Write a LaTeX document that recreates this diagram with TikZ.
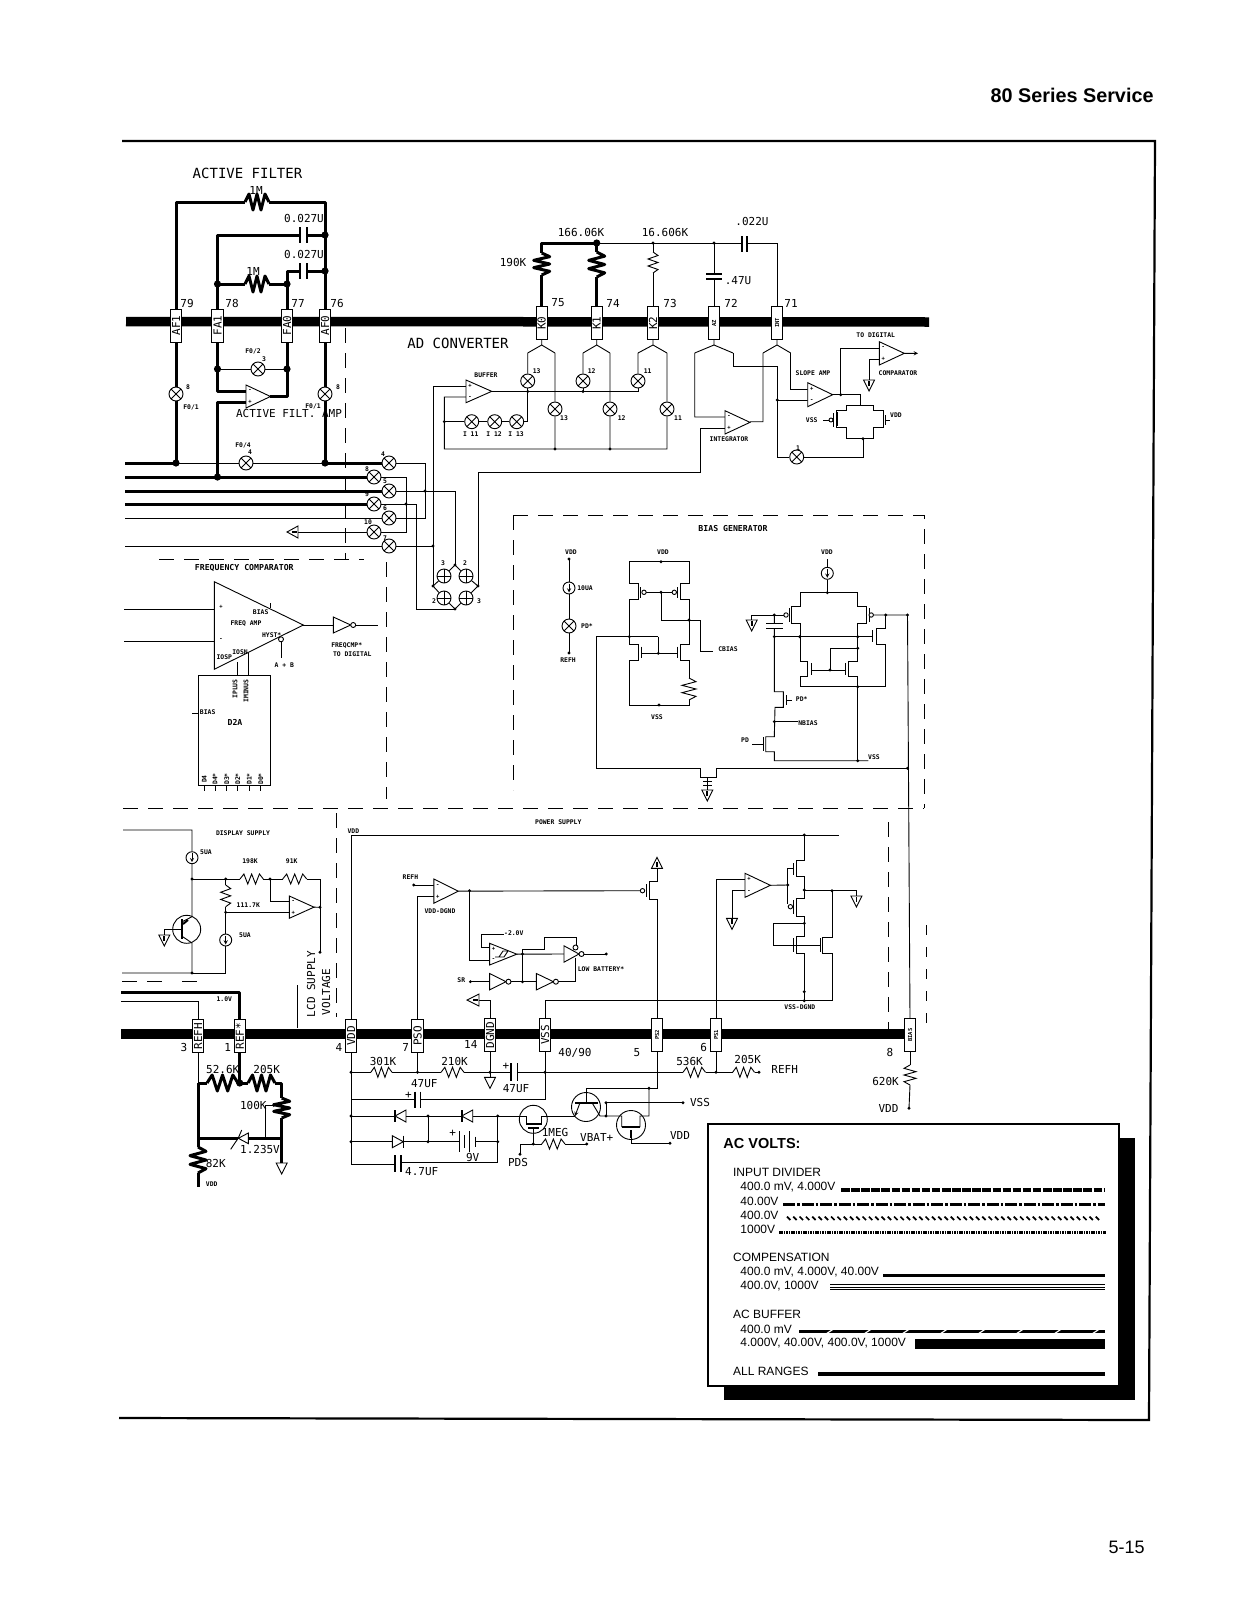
\documentclass[tikz,border=0pt]{standalone}
\usepackage{fontspec}
\usepackage{graphicx}
\setmainfont{Liberation Sans}
\newfontfamily\pl{DejaVu Sans Mono}
\newcounter{tn}
\newcommand\T[4][mid]{\stepcounter{tn}\node[#1] (t\arabic{tn}) at (#2,#3) {#4};}
\newcommand\Rh[5][]{\draw[#1] (#2,#4) -- ({#2+(#3-#2)/6},{#4-#5}) -- ({#2+2*(#3-#2)/6},{#4+#5}) -- ({#2+3*(#3-#2)/6},{#4-#5}) -- ({#2+4*(#3-#2)/6},{#4+#5}) -- ({#2+5*(#3-#2)/6},{#4-#5}) -- (#3,#4);}
\newcommand\Rv[5][]{\draw[#1] (#4,#2) -- ({#4+#5},{#2+(#3-#2)/6}) -- ({#4-#5},{#2+2*(#3-#2)/6}) -- ({#4+#5},{#2+3*(#3-#2)/6}) -- ({#4-#5},{#2+4*(#3-#2)/6}) -- ({#4+#5},{#2+5*(#3-#2)/6}) -- (#4,#3);}
\newcommand\dt[2]{\fill (#1,#2) circle (1.6);}
\newcommand\Dt[2]{\fill (#1,#2) circle (3.6);}
\newcommand\Op[7]{\draw[fill=white] (#2,#3) -- (#5,{(#3+#4)/2}) -- (#2,#4) -- cycle; \coordinate (#1) at (#5,{(#3+#4)/2}); \T[sign]{{#2+4}}{{#3+(#4-#3)*.25}}{#6} \T[sign]{{#2+4}}{{#3+(#4-#3)*.75}}{#7}}
\newcommand\Inv[4]{\draw[fill=white] (#1,{#2-#4}) -- ({#1+#3},#2) -- (#1,{#2+#4}) -- cycle; \draw[fill=white] ({#1+#3+2.5},#2) circle (2.5);}
\newcommand\Gd[2]{\draw[fill=white] ({#1-5.5},#2) -- ({#1+5.5},#2) -- (#1,{#2+11}) -- cycle;}
\newcommand\Gdi[2]{\Gd{#1}{#2}\draw[line width=1.8pt] (#1,{#2+1}) -- (#1,{#2+6});}
\newcommand\Gu[2]{\draw[fill=white] ({#1-5.5},#2) -- ({#1+5.5},#2) -- (#1,{#2-11}) -- cycle; \draw[line width=1.8pt] (#1,{#2-1}) -- (#1,{#2-6});}
\tikzset{
  tk/.style={line width=3pt,line join=round},
  pl2/.style={line width=1.6pt},
  dsh/.style={line width=1pt,dash pattern=on 15pt off 10pt},
  big/.style={inner sep=0pt,font=\pl\fontsize{14}{14}\selectfont},
  mid/.style={inner sep=0pt,font=\pl\fontsize{11}{11}\selectfont},
  tiny/.style={inner sep=0pt,font=\pl\bfseries\fontsize{6.4}{7}\selectfont},
  tinyb/.style={inner sep=0pt,font=\pl\bfseries\fontsize{8.2}{9}\selectfont},
  sign/.style={inner sep=0pt,font=\pl\bfseries\fontsize{5.5}{6}\selectfont},
  leg/.style={inner sep=0pt,anchor=west,font=\fontsize{12}{12}\selectfont},
  padb/.style={draw,fill=white,line width=.9pt,minimum width=11.5pt,minimum height=33pt,inner sep=0pt,font=\pl\fontsize{11}{11}\selectfont},
  pads/.style={padb,font=\pl\bfseries\fontsize{5.5}{6}\selectfont},
  lamp/.style={circle,draw,fill=white,line width=.9pt,minimum size=14pt,inner sep=0pt,
    path picture={\draw[line width=.9pt] (path picture bounding box.north west)--(path picture bounding box.south east) (path picture bounding box.north east)--(path picture bounding box.south west);}},
  plamp/.style={circle,draw,fill=white,line width=.9pt,minimum size=14pt,inner sep=0pt,
    path picture={\draw[line width=.9pt] (path picture bounding box.north)--(path picture bounding box.south) (path picture bounding box.east)--(path picture bounding box.west);}},
  isrc/.style={circle,draw,fill=white,line width=.9pt,minimum size=12pt,inner sep=0pt,
    path picture={\draw[line width=.9pt,->,>=stealth] ([yshift=4.5pt]path picture bounding box.center)--([yshift=-4.5pt]path picture bounding box.center);}},
}
\begin{document}
\begin{tikzpicture}[x=1pt,y=-1pt,line width=.9pt]
\useasboundingbox (0,0) rectangle (1237,1600);
% page furniture
\node[inner sep=0pt,anchor=base east,font=\bfseries\fontsize{19.8}{20}\selectfont] (title) at (1154,103) {80 Series Service};
\node[inner sep=0pt,anchor=base east,font=\fontsize{18}{18}\selectfont] (pageno) at (1145,1553) {5-15};
\draw[line width=2.2pt,line join=miter] (122,141) -- (1155,141) -- (1149,1420) -- (119,1418);
% buses
\draw[line width=9.5pt] (126,321.5) -- (929,322);
\draw[line width=10pt] (121,1034) -- (910,1034);
% pads
\node[padb] (pAFa) at (176,325.5) {\rotatebox{90}{AF1}};
\node[padb] (pFAa) at (217.5,325.5) {\rotatebox{90}{FA1}};
\node[padb] (pFAo) at (287,325.5) {\rotatebox{90}{FA0}};
\node[padb] (pAFo) at (325,325.5) {\rotatebox{90}{AF0}};
\node[padb] (pKo) at (541.7,323) {\rotatebox{90}{K0}};
\node[padb] (pKa) at (596.7,323) {\rotatebox{90}{K1}};
\node[padb] (pKb) at (653,323) {\rotatebox{90}{K2}};
\node[pads] (pAZ) at (714,323) {\rotatebox{90}{AZ}};
\node[pads] (pINT) at (777,323) {\rotatebox{90}{INT}};
\node[padb] (pREFH) at (198,1036) {\rotatebox{90}{REFH}};
\node[padb] (pREF) at (239.7,1036) {\rotatebox{90}{REF*}};
\node[padb] (pVDD) at (351,1036) {\rotatebox{90}{VDD}};
\node[padb] (pPSO) at (417.5,1036) {\rotatebox{90}{PSO}};
\node[padb] (pDGND) at (490,1035) {\rotatebox{90}{DGND}};
\node[padb] (pVSS) at (545,1035) {\rotatebox{90}{VSS}};
\node[pads] (pPSb) at (657,1035) {\rotatebox{90}{PS2}};
\node[pads] (pPSa) at (716,1035) {\rotatebox{90}{PS1}};
\node[pads] (pBIAS) at (910,1035) {\rotatebox{90}{BIAS}};
% lamps
\node[lamp] (lAFa) at (176,394) {};
\node[lamp] (lAFo) at (325,394) {};
\node[lamp] (lFb) at (258,369) {};
\node[lamp] (lFd) at (246,463) {};
\node[lamp] (lfour) at (389,463) {};
\node[lamp] (leight) at (374,477) {};
\node[lamp] (lfive) at (389,491) {};
\node[lamp] (lnine) at (374,504) {};
\node[lamp] (lsix) at (389,518) {};
\node[lamp] (lten) at (374,532) {};
\node[lamp] (lseven) at (389,546) {};
\node[plamp] (dTL) at (444,576) {};
\node[plamp] (dTR) at (466,576) {};
\node[plamp] (dBL) at (444,598) {};
\node[plamp] (dBR) at (466,598) {};
\node[lamp] (lKoL) at (527.7,381) {};
\node[lamp] (lKaL) at (583,381) {};
\node[lamp] (lKbL) at (638,381) {};
\node[lamp] (lKoR) at (555,409) {};
\node[lamp] (lKaR) at (610,409) {};
\node[lamp] (lKbR) at (667,409) {};
\node[lamp] (lIa) at (471.7,421.7) {};
\node[lamp] (lIb) at (494.7,421.7) {};
\node[lamp] (lIc) at (516.7,421.7) {};
\node[lamp] (lone) at (796.7,457) {};
\node[lamp] (lPD) at (569,626) {};
\node[isrc] (iTen) at (569,588) {};
\node[isrc] (iBias) at (827.3,573.3) {};
\node[isrc] (iDa) at (192,857.7) {};
\node[isrc] (iDb) at (225.7,940) {};
% ------- active filter
\draw[tk] (pAFa.north) |- (245,202); \Rh[tk]{245}{269}{202}{8}; \draw[tk] (269,202) -| (pAFo.north);
\draw[tk] (pFAa.north) |- (300,235); \draw[tk] (307,235) -- (325,235);
\draw[pl2] (300,227) -- (300,243) (307,227) -- (307,243);
\draw[tk] (pFAo.north) -- (287,271) -- (300,271); \draw[tk] (307,271) -- (325,271);
\draw[pl2] (300,263) -- (300,279) (307,263) -- (307,279);
\draw[tk] (217.5,284) -- (245,284); \Rh[tk]{245}{269}{284}{8}; \draw[tk] (269,284) -- (287,284);
\Dt{325}{235} \Dt{325}{271} \Dt{217.5}{284} \Dt{287}{284}
\draw[tk] (pAFa.south) -- (lAFa); \draw[tk] (lAFa) -- (176,463);
\draw[tk] (pAFo.south) -- (lAFo); \draw[tk] (lAFo) -- (325,463);
\draw[tk] (pFAa.south) |- (246,391);
\draw[tk] (pFAo.south) |- (270,396);
\draw[tk] (246,402) -| (217.5,477);
\draw (217.5,369) -- (lFb) -- (287,369);
\Dt{217.5}{369} \Dt{287}{369}
\Op{opAF}{246}{385}{408}{270.5}{-}{+}
% lines from left
\draw[tk] (125,463) -- (176,463); \draw (176,463) -- (lFd) -- (325,463); \draw[tk] (325,463) -- (lfour);
\draw[tk] (125,477) -- (leight);
\draw[tk] (125,491) -- (lfive);
\draw[tk] (125,504) -- (lnine);
\draw (125,518) -- (lsix);
\draw (125,546) -- (lseven);
\Dt{176}{463} \Dt{325}{463} \Dt{217.5}{477}
\draw (lfour) -| (425,518) -- (lsix);
\draw (leight) -| (406,532) -- (lten);
\draw (lfive) -| (455,565);
\draw (lnine) -| (416,609) -- (455,609);
\draw (lseven) -- (433,546);
\draw (lten) -- (298,532);
\draw[fill=white] (298,526) -- (287,532) -- (298,538) -- cycle; \draw[line width=1.8pt] (297,532) -- (292,532);
\dt{425}{491} \dt{406}{504} \dt{433}{546}
\draw (467,386) -| (433,586);
\draw (455,565) -- (dTL) -- (433,586) -- (dBL) -- (455,609) -- (dBR) -- (478,586) -- (dTR) -- (455,565);
\dt{455}{565} \dt{433}{586} \dt{478}{586} \dt{455}{609}
\draw (478,586) |- (700,472) |- (725,428);
% dashed
\draw[dsh] (345,328) -- (345,559);
\draw[dsh] (159,559) -- (364,559);
\draw[dsh] (386,562) -- (386,799);
\draw[dsh] (123,808) -- (924,808);
\draw[dsh] (513,515) -- (924,515) -- (924,808);
\draw[dsh] (513,515) -- (513,790);
\draw[dsh] (336.7,813) -- (336.7,1017);
\draw (297.7,985) -- (297.7,1028);
\draw[dsh] (888,822) -- (888,1032);
\draw[line width=.5pt,dash pattern=on 10pt off 12pt] (926,925) -- (926,1030);
\draw[dsh] (122,981.7) -- (170,981.7) (182,981.7) -- (198,981.7);
% labels upper left
\T[big]{247.5}{173}{ACTIVE FILTER}
\T[mid]{256}{190}{1M} \T[mid]{253}{271}{1M}
\T[mid]{304}{218}{0.027U} \T[mid]{304}{254}{0.027U}
\T[mid]{187}{303}{79} \T[mid]{232}{303}{78} \T[mid]{298}{303}{77} \T[mid]{337}{303}{76}
\T[tiny]{253}{351}{F0/2} \T[tiny]{264}{359}{3} \T[tiny]{191}{407}{F0/1} \T[tiny]{188}{387}{8}
\T[tiny]{338}{387}{8} \T[tiny]{313}{406}{F0/1} \T[tiny]{243}{445}{F0/4} \T[tiny]{250}{452}{4}
\T[mid]{289}{413}{ACTIVE FILT. AMP}
\T[tiny]{383}{454}{4} \T[tiny]{367}{469}{8} \T[tiny]{385}{481}{5} \T[tiny]{367}{494}{9} \T[tiny]{385}{508}{6} \T[tiny]{368}{522}{10} \T[tiny]{385}{538}{7}
\T[tiny]{443}{563}{3} \T[tiny]{465}{563}{2} \T[tiny]{434}{601}{2} \T[tiny]{479}{601}{3}
% ------- AD converter
\draw[tk] (pKo.north) -- (541.7,275); \Rv[tk]{275}{253}{541.7}{8}; \draw[tk] (541.7,253) |- (596.7,243);
\draw[tk] (pKa.north) -- (596.7,277); \Rv[tk]{277}{252}{596.7}{8}; \draw[tk] (596.7,252) -- (596.7,243);
\Dt{596.7}{243}
\draw (596.7,243) -- (741.7,243); \draw (747,243) -| (pINT.north);
\draw[pl2] (741.7,236) -- (741.7,252) (747,236) -- (747,252);
\draw (pKb.north) -- (653,273); \Rv{273}{252}{653}{5}; \draw (653,252) -- (653,243);
\draw (714,243) -- (714,274); \draw (714,279) -- (pAZ.north);
\draw[pl2] (706,274) -- (722,274) (706,279) -- (722,279);
\dt{653}{243} \dt{714}{243}
% forks
\draw (pKo.south) -- (541.7,345) (527.7,353) -- (541.7,345) -- (555,353) (527.7,353) -- (lKoL) (555,353) -- (lKoR) -- (555,449);
\draw (pKa.south) -- (596.7,345) (583,353) -- (596.7,345) -- (610,353) (583,353) -- (lKaL) (610,353) -- (lKaR) -- (610,449);
\draw (pKb.south) -- (653,345) (638,353) -- (653,345) -- (667,353) (638,353) -- (lKbL) (667,353) -- (lKbR) -- (667,449) -- (444.3,449) -- (444.3,397) -- (466,397);
\draw (lKoL) -- (527.7,421.7) -- (lIc) -- (lIb) -- (lIa) -- (444.3,421.7);
\draw (lKaL) -- (583,391.7) (lKbL) -- (638,391.7);
\draw (491.7,391.5) -- (638,391.5);
\dt{527.7}{391.5} \dt{583}{391.5} \dt{444.3}{421.7} \dt{555}{449} \dt{610}{449}
\Op{opBuf}{466}{380}{402.7}{491.7}{+}{-}
\T[tiny]{486}{375.7}{BUFFER}
\T[tiny]{470.7}{434}{I 11} \T[tiny]{494}{434}{I 12} \T[tiny]{516}{434}{I 13}
\T[tiny]{536.7}{371}{13} \T[tiny]{591.7}{371}{12} \T[tiny]{647.7}{371}{11}
\T[tiny]{564}{417.7}{13} \T[tiny]{621.7}{417.7}{12} \T[tiny]{678}{417.7}{11}
\draw (pAZ.south) -- (714,345) (694.7,353) -- (714,345) -- (733,353) (694.7,353) |- (725,417);
\draw (733,353) |- (777.3,366.7) -- (777.3,457) -- (lone) -| (863,438.7);
\draw (pINT.south) -- (777,345) (763,353) -- (777,345) -- (790.7,353) (763,353) |- (750,421.7);
\draw (790.7,353) |- (807.7,389);
\draw (777.3,400) -- (807.7,400); \dt{777.3}{400}
\T[tiny]{798}{448}{1}
\Op{opInt}{725}{410.7}{434}{750}{-}{+}
\T[tiny]{729}{439}{INTEGRATOR}
\Op{opSl}{807.7}{382.7}{406.7}{832.7}{+}{-}
\T[tiny]{813}{373}{SLOPE AMP}
\draw (832.7,394.7) -| (860,405.7);
\draw (840.7,394.7) |- (879.3,348.3); \dt{840.7}{394.7}
\Op{opCmp}{879.3}{341.7}{365}{904.3}{-}{+}
\draw[->,>=stealth] (opCmp) -- (918,353.3);
\draw (879.3,359) -| (869,380); \Gdi{869}{380}
\T[tiny]{875.7}{335}{TO DIGITAL} \T[tiny]{898}{373}{COMPARATOR}
\draw (846.7,405.7) -- (873.3,405.7) -- (873.3,410.7) -- (883.3,410.7) -- (883.3,427.3) -- (873.3,427.3) -- (873.3,438.7) -- (846.7,438.7) -- (846.7,427.3) -- (836.7,427.3) -- (836.7,410.7) -- (846.7,410.7) -- cycle;
\draw[pl2] (836.7,412) -- (836.7,426) (883.3,412) -- (883.3,426);
\draw (833.5,413) -- (833.5,427); \draw (885.7,415) -- (885.7,425); \draw (885.7,420) -- (890,420);
\draw (823,420) -- (829,420); \draw[fill=white] (831,420) circle (2);
\T[tiny]{811.7}{420}{VSS} \T[tiny]{896}{415}{VDD}
\dt{863}{438.7}
\T[big]{458}{343}{AD CONVERTER}
\T[mid]{581}{232}{166.06K} \T[mid]{665}{232}{16.606K} \T[mid]{752}{221}{.022U} \T[mid]{513}{262}{190K} \T[mid]{738}{281}{.47U}
\T[mid]{558}{303}{75} \T[mid]{613}{303}{74} \T[mid]{670}{303}{73} \T[mid]{731}{303}{72} \T[mid]{791}{303}{71}
% ------- frequency comparator
\T[tinyb]{244.3}{567.7}{FREQUENCY COMPARATOR}
\draw (124,609) -- (214.3,609) (124,641.7) -- (214.3,641.7);
\draw[fill=white] (214.3,581.7) -- (303.3,625) -- (214.3,669.3) -- cycle;
\coordinate (fAmp) at (303.3,625);
\T[sign]{221}{606.7}{+} \T[sign]{221}{640}{-}
\T[tiny]{260.7}{612.3}{BIAS} \T[tiny]{246}{624}{FREQ AMP} \T[tiny]{271.7}{635}{HYST*}
\T[tiny]{224.3}{657.3}{IOSP} \T[tiny]{240}{651.7}{IOSN}
\draw (270.7,603) -- (270.7,608);
\draw (281,642) -- (281,658.3); \draw[fill=white] (281,639.3) circle (2.5);
\T[tiny]{284.3}{665}{A + B}
\draw (fAmp) -- (333.3,625); \Inv{333.3}{625}{17.4}{8} \draw (356.2,625) -- (378.3,625);
\T[tiny]{346.7}{645.7}{FREQCMP*} \T[tiny]{352.3}{654.3}{TO DIGITAL}
\node[draw,minimum width=72.3pt,minimum height=110pt,inner sep=0pt] (dta) at (234.15,730) {};
\draw (237.3,662) -- (237.3,675) (248.3,653) -- (248.3,675);
\T[tiny]{235}{689}{\rotatebox{90}{IPLUS}} \T[tiny]{246}{691}{\rotatebox{90}{IMINUS}}
\draw (192.3,713.3) -- (198,713.3);
\T[tiny]{207.7}{711.7}{BIAS}
\T[tinyb]{235}{722.3}{D2A}
\T[tiny]{204.3}{779}{\rotatebox{90}{D4}} \T[tiny]{215}{779}{\rotatebox{90}{D4*}} \T[tiny]{226.7}{779}{\rotatebox{90}{D3*}} \T[tiny]{237.7}{779}{\rotatebox{90}{D2*}} \T[tiny]{249.3}{779}{\rotatebox{90}{D1*}} \T[tiny]{260.7}{779}{\rotatebox{90}{D0*}}
\draw (204.3,785) -- (204.3,791) (215,785) -- (215,791) (226.7,785) -- (226.7,791) (237.7,785) -- (237.7,791) (249.3,785) -- (249.3,791) (260.7,785) -- (260.7,791);
% ------- bias generator
\T[tinyb]{733}{529}{BIAS GENERATOR}
\T[tiny]{571}{552}{VDD} \T[tiny]{585}{588}{10UA} \T[tiny]{587}{626}{PD*} \T[tiny]{568}{660}{REFH}
\dt{569}{559} \dt{569}{653}
\draw (569,559) -- (iTen) -- (lPD) -- (569,653);
\T[tiny]{663}{552}{VDD} \dt{661}{561.7}
\draw (629.3,636.7) -- (629.3,599.3) -- (638,599.3) -- (638,583) -- (629.3,583) -- (629.3,561.7) -- (689,561.7) -- (689,583) -- (680,583) -- (680,599.3) -- (689,599.3) -- (689,644) -- (680,644) -- (680,660.7) -- (689,660.7) -- (689,678);
\Rv{678}{700}{689}{7}
\draw (689,700) -- (689,705) -- (629.3,705) -- (629.3,660.7) -- (638,660.7) -- (638,644) -- (629.3,644) -- (629.3,636.7);
\draw (640.7,587) -- (640.7,598) (677.3,587) -- (677.3,598) (646,592.3) -- (672,592.3);
\draw[fill=white] (644,592.3) circle (2.2) (674.3,592.3) circle (2.2);
\draw (661,592.3) -- (661,620) -- (700,620) -- (700,651) -- (713.3,651);
\dt{661}{592.3} \dt{689}{620}
\draw (641.7,646.7) -- (641.7,658) (641.7,653.3) -- (677.3,653.3) (677.3,646.7) -- (677.3,658) (658.3,653.3) -- (658.3,636.7);
\dt{658.3}{653.3} \dt{629.3}{636.7} \dt{659}{705}
\T[tiny]{728}{649}{CBIAS} \T[tiny]{657}{717}{VSS}
\draw (658.3,636.7) -- (596,636.7) -- (596,768.3) -- (700,768.3) -- (700,777.3) -- (716,777.3) -- (716,768.3) -- (907.5,768.3);
\draw (707.3,777.3) -- (707.3,790) (703,781) -- (712,781) (703,785) -- (712,785); \Gdi{707.3}{790}
\dt{907.5}{768.3}
% right part of bias generator
\T[tiny]{827}{552}{VDD}
\draw (827.3,559) -- (iBias) -- (827.3,592.7); \dt{827.3}{592.7}
\draw (800,686.7) -- (800,676.7) -- (807.7,676.7) -- (807.7,661.7) -- (800,661.7) -- (800,623.3) -- (791.7,623.3) -- (791.7,606.7) -- (800,606.7) -- (800,592.7) -- (857.7,592.7) -- (857.7,606.7) -- (866.7,606.7) -- (866.7,623.3) -- (857.7,623.3) -- (857.7,661.7) -- (848.3,661.7) -- (848.3,676.7) -- (857.7,676.7) -- (857.7,760.7);
\draw (789.3,608) -- (789.3,622) (869,608) -- (869,622);
\draw (784,615) -- (751.7,615) -- (751.7,620); \Gdi{751.7}{620}
\draw[fill=white] (786,615) circle (2.2) (871.2,615) circle (2.2);
\draw (873.4,615) -- (907.5,615) -- (pBIAS.north);
\dt{885.7}{615} \dt{774.3}{615} \dt{907.5}{615}
\draw (774.3,615) -- (774.3,623.3) (774.3,628.3) -- (774.3,691.7) -- (783.3,691.7) -- (783.3,707.3) -- (775,707.3) -- (774.3,736.7) -- (765.7,736.7) -- (765.7,751.7) -- (774.3,751.7) -- (774.3,760.7) -- (868.3,760.7);
\draw[pl2] (766,623.3) -- (782.6,623.3) (766,628.3) -- (782.6,628.3);
\draw (774.3,636.7) -- (872.7,636.7);
\draw (872.7,630) -- (872.7,642);
\dt{774.3}{636.7} \dt{799.7}{636.7} \dt{857.7}{636.7}
\draw (885.7,615) -- (885.7,628) -- (876.7,628) -- (876.7,644.3) -- (885.7,644.3) -- (885.7,686.7) -- (800,686.7);
\dt{857.7}{686.7} \dt{857.7}{760.7} \dt{774.3}{721.7}
\draw (811,663) -- (811,675) (811,670) -- (845,670) (845,663) -- (845,675);
\draw (830,670) -- (830,648.3) -- (857.7,648.3); \dt{830}{670} \dt{857.7}{648.3}
\draw (786,695) -- (786,705) (786,700) -- (791.7,700);
\draw (774.3,721.7) -- (798.3,721.7);
\draw (763.3,737) -- (763.3,751) (752.3,744.3) -- (763.3,744.3);
\T[tiny]{801.7}{699}{PD*} \T[tiny]{808}{723}{NBIAS} \T[tiny]{745}{740}{PD} \T[tiny]{874}{757}{VSS}
% ------- display supply
\T[tiny]{243}{833}{DISPLAY SUPPLY}
\draw (123,830) -- (192,830) -- (iDa) -- (192,916.7) -- (181.7,922);
\draw (181.7,936) -- (192,943) -- (192,973) -- (122,973);
\draw (192,973) -- (225.7,973) -- (iDb) -- (225.7,912.3);
\draw (186.7,929.3) circle (14);
\draw[pl2] (181.7,919) -- (181.7,939);
\draw[line width=2pt] (183,924) -- (188,920);
\draw (181.7,929.3) -- (164.3,929.3) -- (164.3,935); \Gdi{164.3}{935}
\draw (192,879) -- (240,879); \Rh{240}{263.3}{879}{5}; \draw (263.3,879) -- (282.7,879); \Rh{282.7}{306.7}{879}{5}; \draw (306.7,879) -| (320,952.3);
\draw (225.7,879) -- (225.7,885); \Rv{885}{906.7}{225.7}{5}; \draw (225.7,906.7) -- (225.7,912.3);
\draw (225.7,912.3) -- (289.3,912.3);
\draw (270,879) |- (289.3,901.7);
\Op{opD}{289.3}{896}{918.3}{314}{-}{+}
\draw (opD) -- (320,907.3);
\dt{192}{879} \dt{225.7}{879} \dt{270}{879} \dt{225.7}{912.3} \dt{320}{907.3} \dt{320}{952.3} \dt{192}{973}
\T[tiny]{206}{852.7}{5UA} \T[tiny]{250}{861}{198K} \T[tiny]{291.7}{861}{91K} \T[tiny]{248.3}{905}{111.7K} \T[tiny]{245}{935}{5UA} \T[tiny]{224.3}{999.3}{1.0V}
\T[mid]{311}{984}{\rotatebox{90}{LCD SUPPLY}} \T[mid]{326}{992}{\rotatebox{90}{VOLTAGE}}
\draw[tk] (121,992.7) -| (pREF.north);
\draw (121,1001) -| (pREFH.north);
\T[mid]{184}{1047}{3} \T[mid]{227.7}{1047}{1} \T[mid]{339}{1047}{4} \T[mid]{405.7}{1047}{7}
% reference network
\draw (pREFH.south) -- (198,1083);
\draw[tk] (pREF.south) -- (239.7,1083);
\draw[tk] (198,1083) -- (207,1083); \Rh[tk]{207}{238}{1083}{8}; \draw[tk] (238,1083) -- (248,1083); \Rh[tk]{248}{275}{1083}{8}; \draw[tk] (275,1083) -| (281.7,1098);
\Rv[tk]{1098}{1118}{281.7}{8}
\draw[tk] (281.7,1118) -- (281.7,1163);
\Dt{239.7}{1083}
\draw[tk] (198,1083) -- (198,1147);
\draw[tk] (198,1138.3) -- (238,1138.3); \draw[tk] (248,1138.3) -- (281.7,1138.3);
\draw[fill=white] (238.3,1138.3) -- (248.3,1133) -- (248.3,1143.6) -- cycle;
\draw (230.7,1149.3) -- (238.3,1138) -- (241.7,1130);
\draw[->,>=stealth] (265,1138) -- (265,1105) -- (277,1105);
\Rv[tk]{1147}{1173}{198}{8}
\draw[tk] (198,1173) -- (198,1186.7);
\Gd{281.7}{1163}
\T[mid]{222.7}{1069.3}{52.6K} \T[mid]{266.7}{1069.3}{205K} \T[mid]{253.3}{1105}{100K} \T[mid]{260}{1149}{1.235V} \T[mid]{215.7}{1163}{82K} \T[tiny]{211.7}{1184}{VDD}
% ------- power supply
\T[tiny]{558.3}{822.3}{POWER SUPPLY} \T[tiny]{353.4}{830.7}{VDD}
\draw (pVDD.north) |- (839.4,835);
\dt{804.3}{835}
\T[tiny]{410.4}{877.3}{REFH} \dt{413.8}{885}
\draw (413.8,885) -- (433.8,885);
\draw (pPSO.north) |- (433.8,896);
\Op{opVa}{433.8}{879}{903.3}{458.3}{-}{+}
\T[tiny]{440}{911}{VDD-DGND}
\draw (opVa) -- (640.2,890.7); \dt{469.6}{890.7}
\draw[fill=white] (642.5,890.7) circle (2.2);
\draw (646,884) -- (646,897);
\draw (pPSb.north) -- (657,899.3) -- (649,899.3) -- (649,881.7) -- (657,881.7) -- (657,868.3); \Gu{657}{868.3}
\draw (469.6,890.7) |- (489.6,960);
\draw (489.6,947.3) -| (481,934.3) -- (503.6,934.3);
\Op{opB}{489.6}{943.3}{965}{516.8}{+}{-}
\draw (495,957) -- (499,957) -- (503,951) -- (508,951) (508,951) -- (504,957) -- (499,957);
\T[tiny]{513.8}{933.3}{-2.0V}
\draw (opB) -- (564,954);
\draw (522.5,949) -- (522.5,981.7);
\draw (522.5,949) -- (544.5,949) -- (544.5,937.7) -- (576,937.7) -- (576,946);
\draw (575.3,981.7) -- (575.3,958);
\Inv{564}{954}{15}{8.2}
\draw[fill=white] (575.5,947.5) circle (2.5);
\draw (584,954) -- (606.2,954); \dt{606.2}{954}
\dt{522.5}{954} \dt{522.5}{981.7}
\T[tiny]{461.3}{980}{SR} \dt{470.4}{981.7}
\draw (470.4,981.7) -- (489.6,981.7); \Inv{489.6}{981.7}{16.4}{8.2}
\draw (511,981.7) -- (536.4,981.7); \Inv{536.4}{981.7}{17}{8.2}
\draw (558.4,981.7) -- (575.3,981.7);
\T[tiny]{601}{969}{LOW BATTERY*}
\draw (pDGND.north) |- (479,1000);
\draw[fill=white] (479,994) -- (467,1000) -- (479,1006) -- cycle; \draw[line width=1.8pt] (478,1000) -- (473,1000);
\draw (pVSS.north) |- (832,1000.7);
\dt{804.3}{1000.7}
\T[tiny]{799.8}{1007.3}{VSS-DGND}
\draw (pPSa.north) |- (745,879.3);
\Op{opC}{745}{873.3}{897.3}{770.4}{+}{-}
\draw (745,890.7) -| (732,918.3); \Gdi{732}{918.3}
\draw (opC) -- (787.7,885); \dt{787.7}{885}
\draw (790,868.3) -- (787.7,868.3) -- (787.7,904);
\draw (793.4,863) -- (793.4,875) (787.7,868.3) -- (793.4,868.3);
\draw (804.3,835) -- (804.3,860) -- (796,860) -- (796,876.7) -- (804.3,876.7) -- (804.3,898.3) -- (796,898.3) -- (796,916) -- (804.3,916) -- (804.3,936.7) -- (796,936.7) -- (796,953.3) -- (804.3,953.3) -- (804.3,1000.7);
\draw (793.4,900) -- (793.4,914);
\draw[fill=white] (790.4,906.7) circle (2.2);
\dt{804.3}{890}
\draw (804.3,890) -- (856.4,890) -- (856.4,896); \Gdi{856.4}{896}
\dt{832}{890.7}
\draw (804.3,923.3) -- (773.4,923.3) -- (773.4,945) -- (820.6,945); \dt{804.3}{923.3}
\draw (793.4,938) -- (793.4,952) (820.6,938) -- (820.6,952);
\draw (832,890) -- (832,937.7) -- (822.5,937.7) -- (822.5,953.3) -- (832,953.3) -- (832,1000.7);
\dt{804.3}{991.7}
% below bus
\T[mid]{470.8}{1044}{14} \T[mid]{575}{1052.7}{40/90} \T[mid]{637}{1052.7}{5} \T[mid]{703.6}{1047.7}{6} \T[mid]{890}{1052.7}{8}
\draw (pVDD.south) -- (351,1164) -- (395,1164);
\draw (351,1072.3) -- (370.8,1072.3); \Rh{370.8}{392}{1072.3}{5}; \draw (392,1072.3) -- (441,1072.3); \Rh{441}{464}{1072.3}{5}; \draw (464,1072.3) -- (511,1072.3); \draw (517.5,1072.3) -- (683,1072.3); \Rh{683}{705.5}{1072.3}{5}; \draw (705.5,1072.3) -- (732.6,1072.3); \Rh{732.6}{754.5}{1072.3}{5}; \draw (754.5,1072.3) -- (759,1072.3);
\draw[pl2] (511,1063.3) -- (511,1080.7) (517.5,1063.3) -- (517.5,1080.7);
\draw (pPSO.south) -- (417.5,1072.3); \dt{417.5}{1072.3}
\draw (pDGND.south) -- (490,1077.3); \dt{490}{1072.3} \Gd{490}{1077.3}
\draw (pVSS.south) -- (545,1099.3) -- (420.6,1099.3); \draw (415,1099.3) -- (351,1099.3); \dt{545}{1072.3}
\draw[pl2] (415,1091.7) -- (415,1108.3) (420.6,1091.7) -- (420.6,1108.3);
\draw (pPSa.south) -- (716,1072.3); \dt{716}{1072.3} \dt{759}{1072.3} \dt{351}{1072.3}
\T[mid]{383}{1061}{301K} \T[mid]{454.5}{1061}{210K} \T[mid]{689.6}{1061}{536K} \T[mid]{747.7}{1059}{205K} \T[mid]{784.7}{1069.3}{REFH}
\T[mid]{506}{1066.7}{+} \T[mid]{408.5}{1095}{+}
\T[mid]{424.3}{1083.3}{47UF} \T[mid]{516}{1088.3}{47UF}
% diode rows
\draw (351,1116) -- (395,1116); \draw[fill=white] (395,1116) -- (406,1110) -- (406,1122) -- cycle; \draw[pl2] (395,1110) -- (395,1122);
\draw (406,1116) -- (461.7,1116); \draw[fill=white] (461.7,1116) -- (472.7,1110) -- (472.7,1122) -- cycle; \draw[pl2] (461.7,1110) -- (461.7,1122);
\draw (472.7,1116) -- (526,1116) -- (526,1124) -- (541.7,1124) -- (541.7,1116) -- (575,1116);
\draw (428,1116) -- (428,1141.7);
\draw (351,1141.7) -- (392.3,1141.7); \draw[fill=white] (392.3,1135.7) -- (403.3,1141.7) -- (392.3,1147.7) -- cycle; \draw[pl2] (403.3,1135.7) -- (403.3,1147.7);
\draw (403.3,1141.7) -- (459,1141.7);
\draw (475,1141.7) -- (497.7,1141.7);
\draw (459,1131) -- (459,1151.7) (469.3,1131) -- (469.3,1151.7) (464,1135) -- (464,1148.3) (475,1136.7) -- (475,1146.7);
\draw (497.7,1116) -- (497.7,1162.7) -- (400.7,1162.7);
\draw[pl2] (395,1155) -- (395,1171.7) (400.7,1155) -- (400.7,1171.7);
\dt{351}{1116} \dt{351}{1141.7} \dt{428}{1116} \dt{428}{1141.7} \dt{497.7}{1116} \dt{497.7}{1141.7}
\T[mid]{452.7}{1133}{+} \T[mid]{472.7}{1157}{9V} \T[mid]{421.7}{1171.7}{4.7UF}
% FETs
\draw (533.3,1119.3) circle (14);
\draw[pl2] (526,1124) -- (541.7,1124) (528,1128) -- (539,1128);
\draw (533.3,1128) -- (533.3,1144); \dt{533.3}{1144}
\draw (520,1154.3) |- (541.7,1144); \Rh{541.7}{565}{1144}{5}; \draw (565,1144) -- (586.7,1144); \dt{586.7}{1144} \dt{520}{1154.3}
\T[mid]{518}{1162.7}{PDS} \T[mid]{555}{1132.7}{1MEG} \T[mid]{596.7}{1137.3}{VBAT+} \T[mid]{680}{1135}{VDD}
\draw (586,1107) circle (14.5);
\draw[pl2] (575,1102.7) -- (598,1102.7);
\draw (pPSb.south) -- (657,1088.3) -- (586.6,1088.3) -- (586.6,1102.7);
\draw[->,>=stealth] (580,1102.7) -- (575,1116);
\draw (592,1102.7) -- (600,1116) -- (621.7,1116) -- (621.7,1126.7) -- (640,1126.7) -- (640,1116) -- (649,1116) -- (649,1088.3);
\dt{649}{1088.3} \dt{606}{1116}
\draw (606,1116) -- (606,1102.7) -- (683,1102.7); \dt{606}{1102.7} \dt{683}{1102.7}
\T[mid]{700}{1102.7}{VSS}
\draw (631,1125) circle (14.5);
\draw[pl2] (621.7,1126.7) -- (640,1126.7);
\draw[line width=2.2pt] (631,1130) -- (631,1138);
\draw (631,1138) -- (631,1143.3) -- (670,1143.3); \dt{670}{1143.3}
% BIAS pad below
\draw (pBIAS.south) -- (910,1065); \Rv{1065}{1085}{910}{-6}; \draw (910,1085) -- (909,1108.3); \dt{909}{1108.3}
\T[mid]{885.5}{1081}{620K} \T[mid]{888.5}{1108.3}{VDD}
% ------- legend
\fill (724,1138) rectangle (1135,1400);
\node[draw,fill=white,line width=1.3pt,minimum width=411pt,minimum height=262pt,inner sep=0pt] (legbox) at (913.5,1255) {};
\node[leg,font=\bfseries\fontsize{14.5}{15}\selectfont] (legT) at (723,1143.3) {AC VOLTS:};
\T[leg]{732.7}{1172.3}{INPUT DIVIDER}
\T[leg]{740}{1187.3}{400.0 mV, 4.000V}
\T[leg]{740}{1201}{40.00V}
\T[leg]{740}{1215}{400.0V}
\T[leg]{740}{1229.3}{1000V}
\T[leg]{732.7}{1257.3}{COMPENSATION}
\T[leg]{740}{1272.3}{400.0 mV, 4.000V, 40.00V}
\T[leg]{740}{1286}{400.0V, 1000V}
\T[leg]{732.7}{1314.3}{AC BUFFER}
\T[leg]{740}{1329.3}{400.0 mV}
\T[leg]{740}{1343.3}{4.000V, 40.00V, 400.0V, 1000V}
\T[leg]{732.7}{1371.7}{ALL RANGES}
\draw[line width=3.2pt,dash pattern=on 8.5pt off 1.6pt] (841,1190) -- (1105,1190);
\draw[line width=3pt,dash pattern=on 12pt off 2pt on 2.5pt off 2pt] (783,1204.3) -- (1105,1204.3);
\foreach \xs in {787,793.3,...,1102} \draw[line width=1.7pt] (\xs,1216.6) -- ({\xs+3.4},1220);
\draw[line width=3pt,dash pattern=on 1.6pt off .8pt] (779,1232.3) -- (1106,1232.3);
\draw[line width=3.5pt] (883,1275.3) -- (1105,1275.3);
\draw[line width=.8pt] (830,1284.8) -- (1105,1284.8) (830,1287.3) -- (1105,1287.3) (830,1289.8) -- (1105,1289.8);
\draw[line width=3.5pt] (799.3,1331.3) -- (1105,1331.3);
\foreach \xs in {826,864,...,1100} \draw[white,line width=1.2pt] (\xs,1334) -- ({\xs+8},1328.6);
\draw[line width=10.3pt] (915.3,1344.2) -- (1105,1344.2);
\draw[line width=3.5pt] (818.3,1374) -- (1105,1374);
\end{tikzpicture}
\end{document}
